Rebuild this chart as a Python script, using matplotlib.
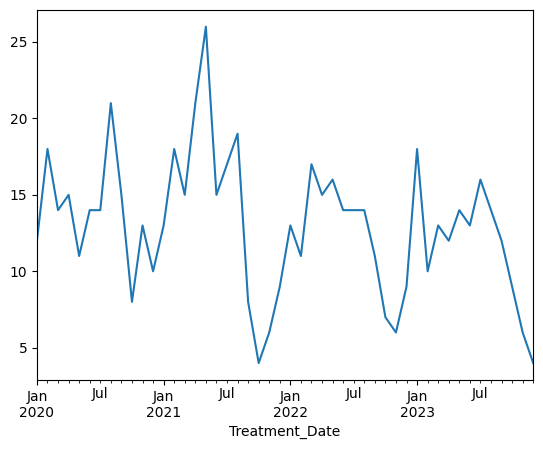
import pandas as pd
import matplotlib
matplotlib.use('Agg')
import matplotlib.pyplot as plt

# Monthly treatment counts, Jan 2020 - Dec 2023
counts_2020 = [12, 18, 14, 15, 11, 14, 14, 21, 15, 8, 13, 10]
counts_2021 = [13, 18, 15, 21, 26, 15, 17, 19, 8, 4, 6, 9]
counts_2022 = [13, 11, 17, 15, 16, 14, 14, 14, 11, 7, 6, 9]
counts_2023 = [18, 10, 13, 12, 14, 13, 16, 14, 12, 9, 6, 4]

dates = pd.date_range('2020-01-01', periods=48, freq='MS', name='Treatment_Date')
series = pd.Series(counts_2020 + counts_2021 + counts_2022 + counts_2023, index=dates)

fig = plt.figure(figsize=(5.43, 4.49), dpi=100)
ax = fig.add_axes([0.068, 0.154, 0.914, 0.824])
series.plot(ax=ax)

plt.savefig('out.png', dpi=100)
plt.close()
